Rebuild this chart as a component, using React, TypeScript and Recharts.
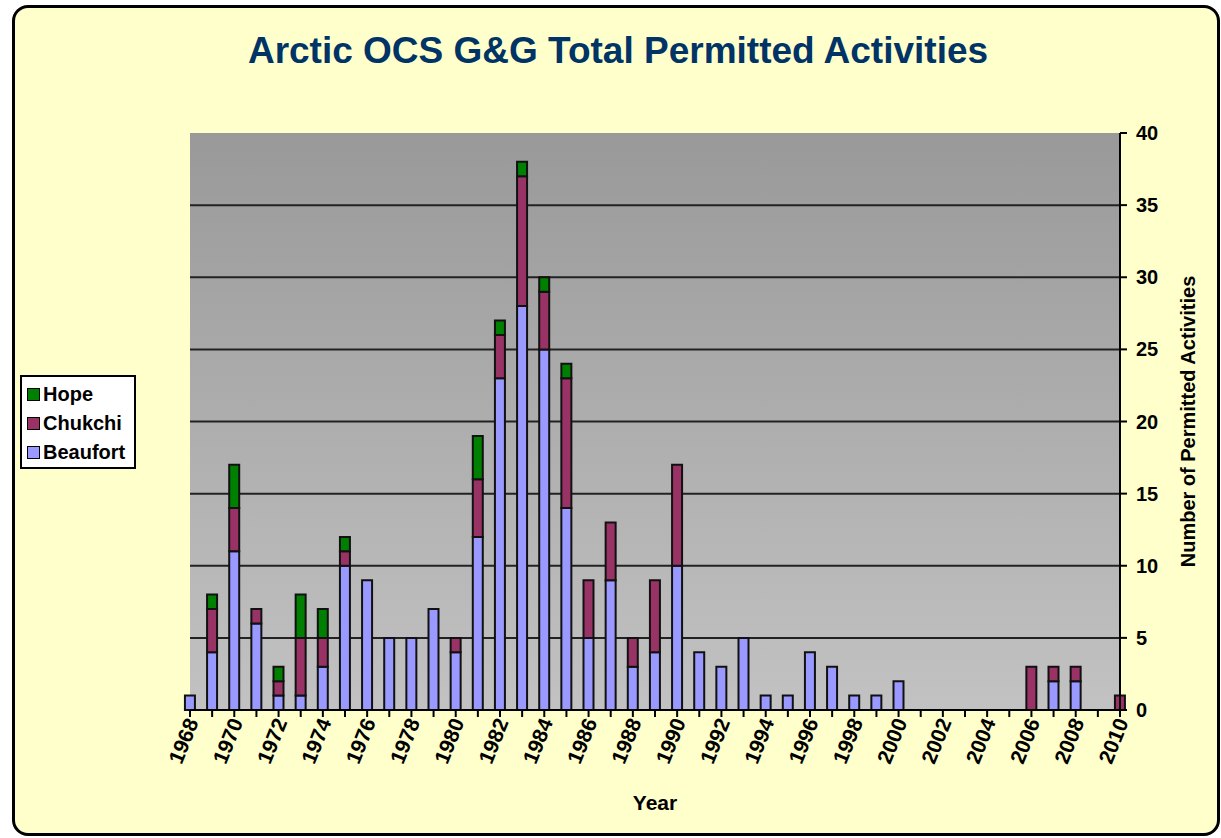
import React from "react";
import { Bar, BarChart, CartesianGrid, XAxis, YAxis } from "recharts";

const years = [
  1968, 1969, 1970, 1971, 1972, 1973, 1974, 1975, 1976, 1977, 1978, 1979, 1980, 1981, 1982,
  1983, 1984, 1985, 1986, 1987, 1988, 1989, 1990, 1991, 1992, 1993, 1994, 1995, 1996, 1997,
  1998, 1999, 2000, 2001, 2002, 2003, 2004, 2005, 2006, 2007, 2008, 2009, 2010,
];
const beaufort = [
  1, 4, 11, 6, 1, 1, 3, 10, 9, 5, 5, 7, 4, 12, 23,
  28, 25, 14, 5, 9, 3, 4, 10, 4, 3, 5, 1, 1, 4, 3,
  1, 1, 2, 0, 0, 0, 0, 0, 0, 2, 2, 0, 0,
];
const chukchi = [
  0, 3, 3, 1, 1, 4, 2, 1, 0, 0, 0, 0, 1, 4, 3,
  9, 4, 9, 4, 4, 2, 5, 7, 0, 0, 0, 0, 0, 0, 0,
  0, 0, 0, 0, 0, 0, 0, 0, 3, 1, 1, 0, 1,
];
const hope = [
  0, 1, 3, 0, 1, 3, 2, 1, 0, 0, 0, 0, 0, 3, 1,
  1, 1, 1, 0, 0, 0, 0, 0, 0, 0, 0, 0, 0, 0, 0,
  0, 0, 0, 0, 0, 0, 0, 0, 0, 0, 0, 0, 0,
];
const yTicks = [0, 5, 10, 15, 20, 25, 30, 35, 40];
const gridLines = [5, 10, 15, 20, 25, 30, 35];

const data = years.map((year, i) => ({
  year,
  Beaufort: beaufort[i],
  Chukchi: chukchi[i],
  Hope: hope[i],
}));

const FONT = '"Liberation Sans", Arial, sans-serif';
const COLORS = { Hope: "#008000", Chukchi: "#993366", Beaufort: "#9999FF" };

// only even years get a label, every year gets a tick mark
function YearTick(props: any) {
  const { x, y, payload } = props;
  if (payload.value % 2 !== 0) return null;
  const ax = x + 9;
  const ay = y + 3;
  return (
    <text
      x={ax}
      y={ay}
      transform={`rotate(-68 ${ax} ${ay})`}
      textAnchor="end"
      fontFamily={FONT}
      fontWeight="bold"
      fontSize={21}
      fill="#000"
    >
      {payload.value}
    </text>
  );
}

function LegendBox() {
  const items = ["Hope", "Chukchi", "Beaufort"] as const;
  return (
    <div
      style={{
        position: "absolute",
        left: 20,
        top: 375,
        width: 116,
        height: 94,
        background: "#fff",
        border: "2px solid #000",
        padding: "3px 0 0 5px",
        fontFamily: FONT,
        fontWeight: "bold",
        fontSize: 20,
        boxSizing: "border-box",
      }}
    >
      {items.map((k) => (
        <div key={k} style={{ display: "flex", alignItems: "center", height: 29 }}>
          <span
            style={{
              display: "inline-block",
              width: 11,
              height: 11,
              background: COLORS[k],
              border: "1.5px solid #000",
              marginRight: 3,
            }}
          />
          {k}
        </div>
      ))}
    </div>
  );
}

export default function App() {
  return (
    <div style={{ position: "absolute", left: 0, top: 0, width: 1221, height: 838, background: "#fff" }}>
      <svg width={0} height={0} style={{ position: "absolute" }}>
        <defs>
          <linearGradient id="plotBg" x1="0" y1="0" x2="0" y2="1">
            <stop offset="0%" stopColor="#999999" />
            <stop offset="100%" stopColor="#C2C2C2" />
          </linearGradient>
        </defs>
      </svg>
      <div
        style={{
          position: "absolute",
          left: 12,
          top: 5,
          width: 1208,
          height: 831,
          boxSizing: "border-box",
          border: "3px solid #000",
          borderRadius: 16,
          background: "#FFFFCC",
        }}
      />
      <div
        style={{
          position: "absolute",
          left: 0,
          width: 1236,
          top: 30,
          textAlign: "center",
          fontFamily: FONT,
          fontWeight: "bold",
          fontSize: 37,
          color: "#003366",
        }}
      >
        Arctic OCS G&amp;G Total Permitted Activities
      </div>
      <div style={{ position: "absolute", left: 0, top: 0 }}>
        <BarChart
          width={1221}
          height={838}
          data={data}
          margin={{ top: 133, right: 41, bottom: 68, left: 190 }}
          barSize={10}
        >
          <CartesianGrid
            horizontal
            vertical={false}
            fill="url(#plotBg)"
            stroke="#222"
            strokeWidth={2}
            horizontalValues={gridLines}
          />
          <XAxis
            dataKey="year"
            type="number"
            domain={[1968, 2010]}
            ticks={years}
            interval={0}
            tick={<YearTick />}
            tickSize={7}
            tickLine={{ stroke: "#000", strokeWidth: 2 }}
            axisLine={{ stroke: "#000", strokeWidth: 2 }}
            height={60}
            label={{
              value: "Year",
              position: "insideBottom",
              offset: -40,
              fontFamily: FONT,
              fontWeight: "bold",
              fontSize: 21,
              fill: "#000",
            }}
          />
          <YAxis
            orientation="right"
            domain={[0, 40]}
            ticks={yTicks}
            interval={0}
            width={60}
            tickSize={7}
            tickMargin={9}
            tickLine={{ stroke: "#000", strokeWidth: 2 }}
            axisLine={{ stroke: "#000", strokeWidth: 2 }}
            tick={{ fontFamily: FONT, fontWeight: "bold", fontSize: 20, fill: "#000" }}
            label={{
              value: "Number of Permitted Activities",
              angle: -90,
              position: "insideRight",
              offset: -8,
              fontFamily: FONT,
              fontWeight: "bold",
              fontSize: 20,
              fill: "#000",
              style: { textAnchor: "middle" },
            }}
          />
          <Bar dataKey="Beaufort" stackId="a" fill={COLORS.Beaufort} stroke="#111" strokeWidth={2} isAnimationActive={false} />
          <Bar dataKey="Chukchi" stackId="a" fill={COLORS.Chukchi} stroke="#111" strokeWidth={2} isAnimationActive={false} />
          <Bar dataKey="Hope" stackId="a" fill={COLORS.Hope} stroke="#111" strokeWidth={2} isAnimationActive={false} />
        </BarChart>
      </div>
      <LegendBox />
    </div>
  );
}
